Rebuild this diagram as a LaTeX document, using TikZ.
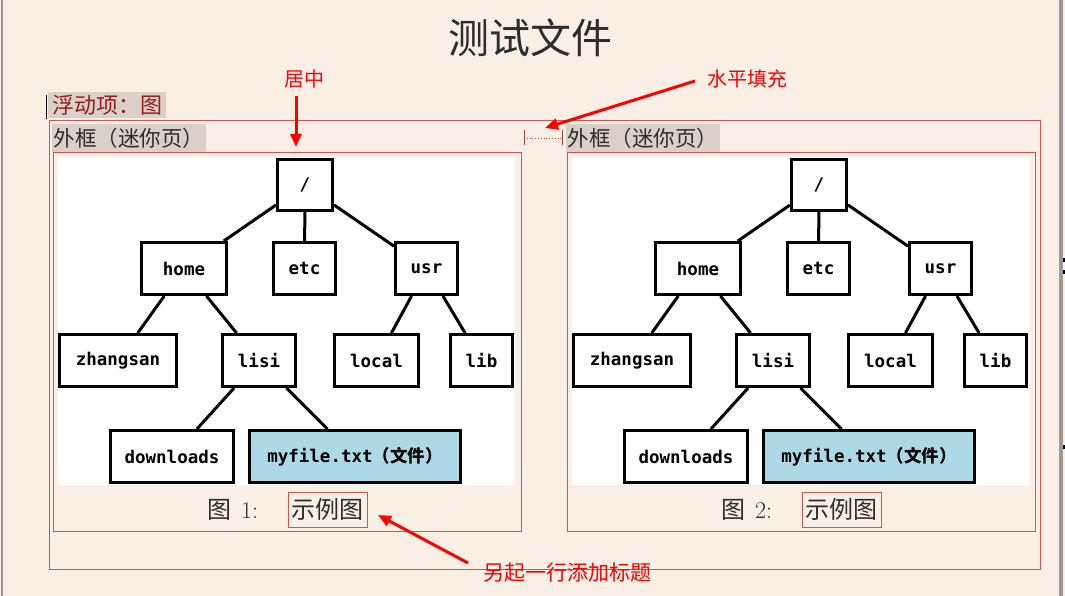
\documentclass[tikz,border=0pt]{standalone}
\usepackage{fontspec}
\usetikzlibrary{arrows.meta}
\newfontfamily\cjk{Noto Sans CJK SC}
\newfontfamily\monofnt{DejaVu Sans Mono}
\definecolor{pagebg}{RGB}{249,239,229}
\definecolor{labelbg}{RGB}{217,208,199}
\definecolor{framered}{RGB}{212,82,82}
\definecolor{floatred}{RGB}{150,30,30}
\definecolor{filebl}{RGB}{173,216,230}
\definecolor{capgray}{RGB}{45,45,45}
\definecolor{edgegray}{RGB}{150,150,150}
\tikzset{
  tbox/.style={draw=black, line width=3pt, fill=white, inner sep=0pt,
    minimum height=52pt, font=\fontsize{17.5}{17.5}\selectfont\monofnt\bfseries},
  tedge/.style={line width=3pt},
  frame/.style={draw=framered, line width=1pt},
  lbl/.style={fill=labelbg, inner sep=0pt, text=capgray,
    font=\fontsize{21.5}{22}\selectfont\cjk},
  anno/.style={text=red, inner sep=0pt, font=\fontsize{20}{20}\selectfont\cjk},
  annoarrow/.style={draw=red, line width=3pt, -{Triangle[length=13pt,width=11pt]}},
  capnum/.style={inner sep=0pt, text=capgray, anchor=west, font=\fontsize{24}{24}\selectfont},
  capbox/.style={draw=framered, line width=1pt, inner sep=0pt, text=capgray,
    minimum width=79pt, minimum height=35pt, font=\fontsize{24}{24}\selectfont\cjk},
}
\newcommand\filetree[1]{%
  \fill[white] (58,157) rectangle (515,485);
  \node[tbox, minimum width=55pt, minimum height=51pt] (root) at (305,185) {/};
  \node[tbox, minimum width=85pt] (home) at (184,268.5) {home};
  \node[tbox, minimum width=62pt] (etc) at (304.5,268.5) {etc};
  \node[tbox, minimum width=62pt] (usr) at (426.5,268.5) {usr};
  \node[tbox, minimum width=117pt] (zhangsan) at (118,360.5) {zhangsan};
  \node[tbox, minimum width=73pt] (lisi) at (259,360.5) {lisi};
  \node[tbox, minimum width=84pt] (local) at (376.5,360.5) {local};
  \node[tbox, minimum width=62pt] (lib) at (481.5,360.5) {lib};
  \node[tbox, minimum width=123pt] (downloads) at (172,456.5) {downloads};
  \node[tbox, minimum width=211pt, fill=filebl] (myfile) at (355,456.5) {myfile.txt{\cjk（文件）}};
  \draw[tedge] (root) -- (home);
  \draw[tedge] (root) -- (etc);
  \draw[tedge] (root) -- (usr);
  \draw[tedge] (home) -- (zhangsan);
  \draw[tedge] (home) -- (lisi);
  \draw[tedge] (usr) -- (local);
  \draw[tedge] (usr) -- (lib);
  \draw[tedge] (lisi) -- (downloads);
  \draw[tedge] (lisi) -- (myfile);
  \draw[frame] (53,153) rectangle (521,531);
  \node[lbl, minimum width=154pt, minimum height=28pt] (minilabel) at (129,138) {外框（迷你页）};
  \node[capnum] (capnum) at (207,510) {{\cjk 图}\hspace{10pt}#1:};
  \node[capbox] (capex) at (327.5,509.5) {示例图};
}
\begin{document}
\begin{tikzpicture}[x=1pt,y=-1pt]
  \useasboundingbox (0,0) rectangle (1065,596);
  \fill[pagebg] (0,0) rectangle (1065,596);
  \draw[edgegray, line width=1.5pt] (2,0) -- (2,596);
  \fill[gray!80] (1059,0) rectangle (1063,596);
  \fill[black] (1063,258) rectangle (1065,262);
  \fill[black] (1063,270) rectangle (1065,274);
  \fill[black] (1063,445) rectangle (1065,449);
  % title
  \node[text=capgray, font=\fontsize{41}{42}\selectfont\cjk] (title) at (530,38) {测试文件};
  % float label
  \draw[black, line width=1pt] (46,95) -- (46,119);
  \node[fill=labelbg, inner sep=0pt, minimum width=118pt, minimum height=26pt,
        text=floatred, font=\fontsize{22}{22}\selectfont\cjk] (floatlabel) at (107,105) {浮动项：图};
  % outer frame
  \draw[frame] (49,121) rectangle (1040,569);
  % left minipage
  \begin{scope}[name prefix=L-]
    \filetree{1}
  \end{scope}
  % right minipage
  \begin{scope}[shift={(514,0)}, name prefix=R-]
    \filetree{2}
  \end{scope}
  % hfill marker
  \coordinate (hfA) at (524,138);
  \coordinate (hfB) at (562,138);
  \draw[framered!80!black, line width=0.8pt, dotted] (hfA) -- (hfB);
  \draw[framered!80!black, line width=1pt] ([yshift=-7pt]hfA) -- ([yshift=8pt]hfA);
  \draw[framered!80!black, line width=1pt] ([yshift=-7pt]hfB) -- ([yshift=8pt]hfB);
  % annotations
  \node[anno] (center) at (304,79) {居中};
  \coordinate (centerFrom) at (296,96);
  \coordinate (centerTip) at (296,147);
  \draw[annoarrow] (centerFrom) -- (centerTip);
  \node[anno] (hfill) at (747,79) {水平填充};
  \coordinate (hfillFrom) at (695,81);
  \coordinate (hfillTip) at (545,128);
  \draw[annoarrow] (hfillFrom) -- (hfillTip);
  \node[anno, font=\fontsize{21}{21}\selectfont\cjk] (newline) at (567,573) {另起一行添加标题};
  \coordinate (nlFrom) at (468,563);
  \coordinate (nlTip) at (378,515);
  \draw[annoarrow] (nlFrom) -- (nlTip);
\end{tikzpicture}
\end{document}
